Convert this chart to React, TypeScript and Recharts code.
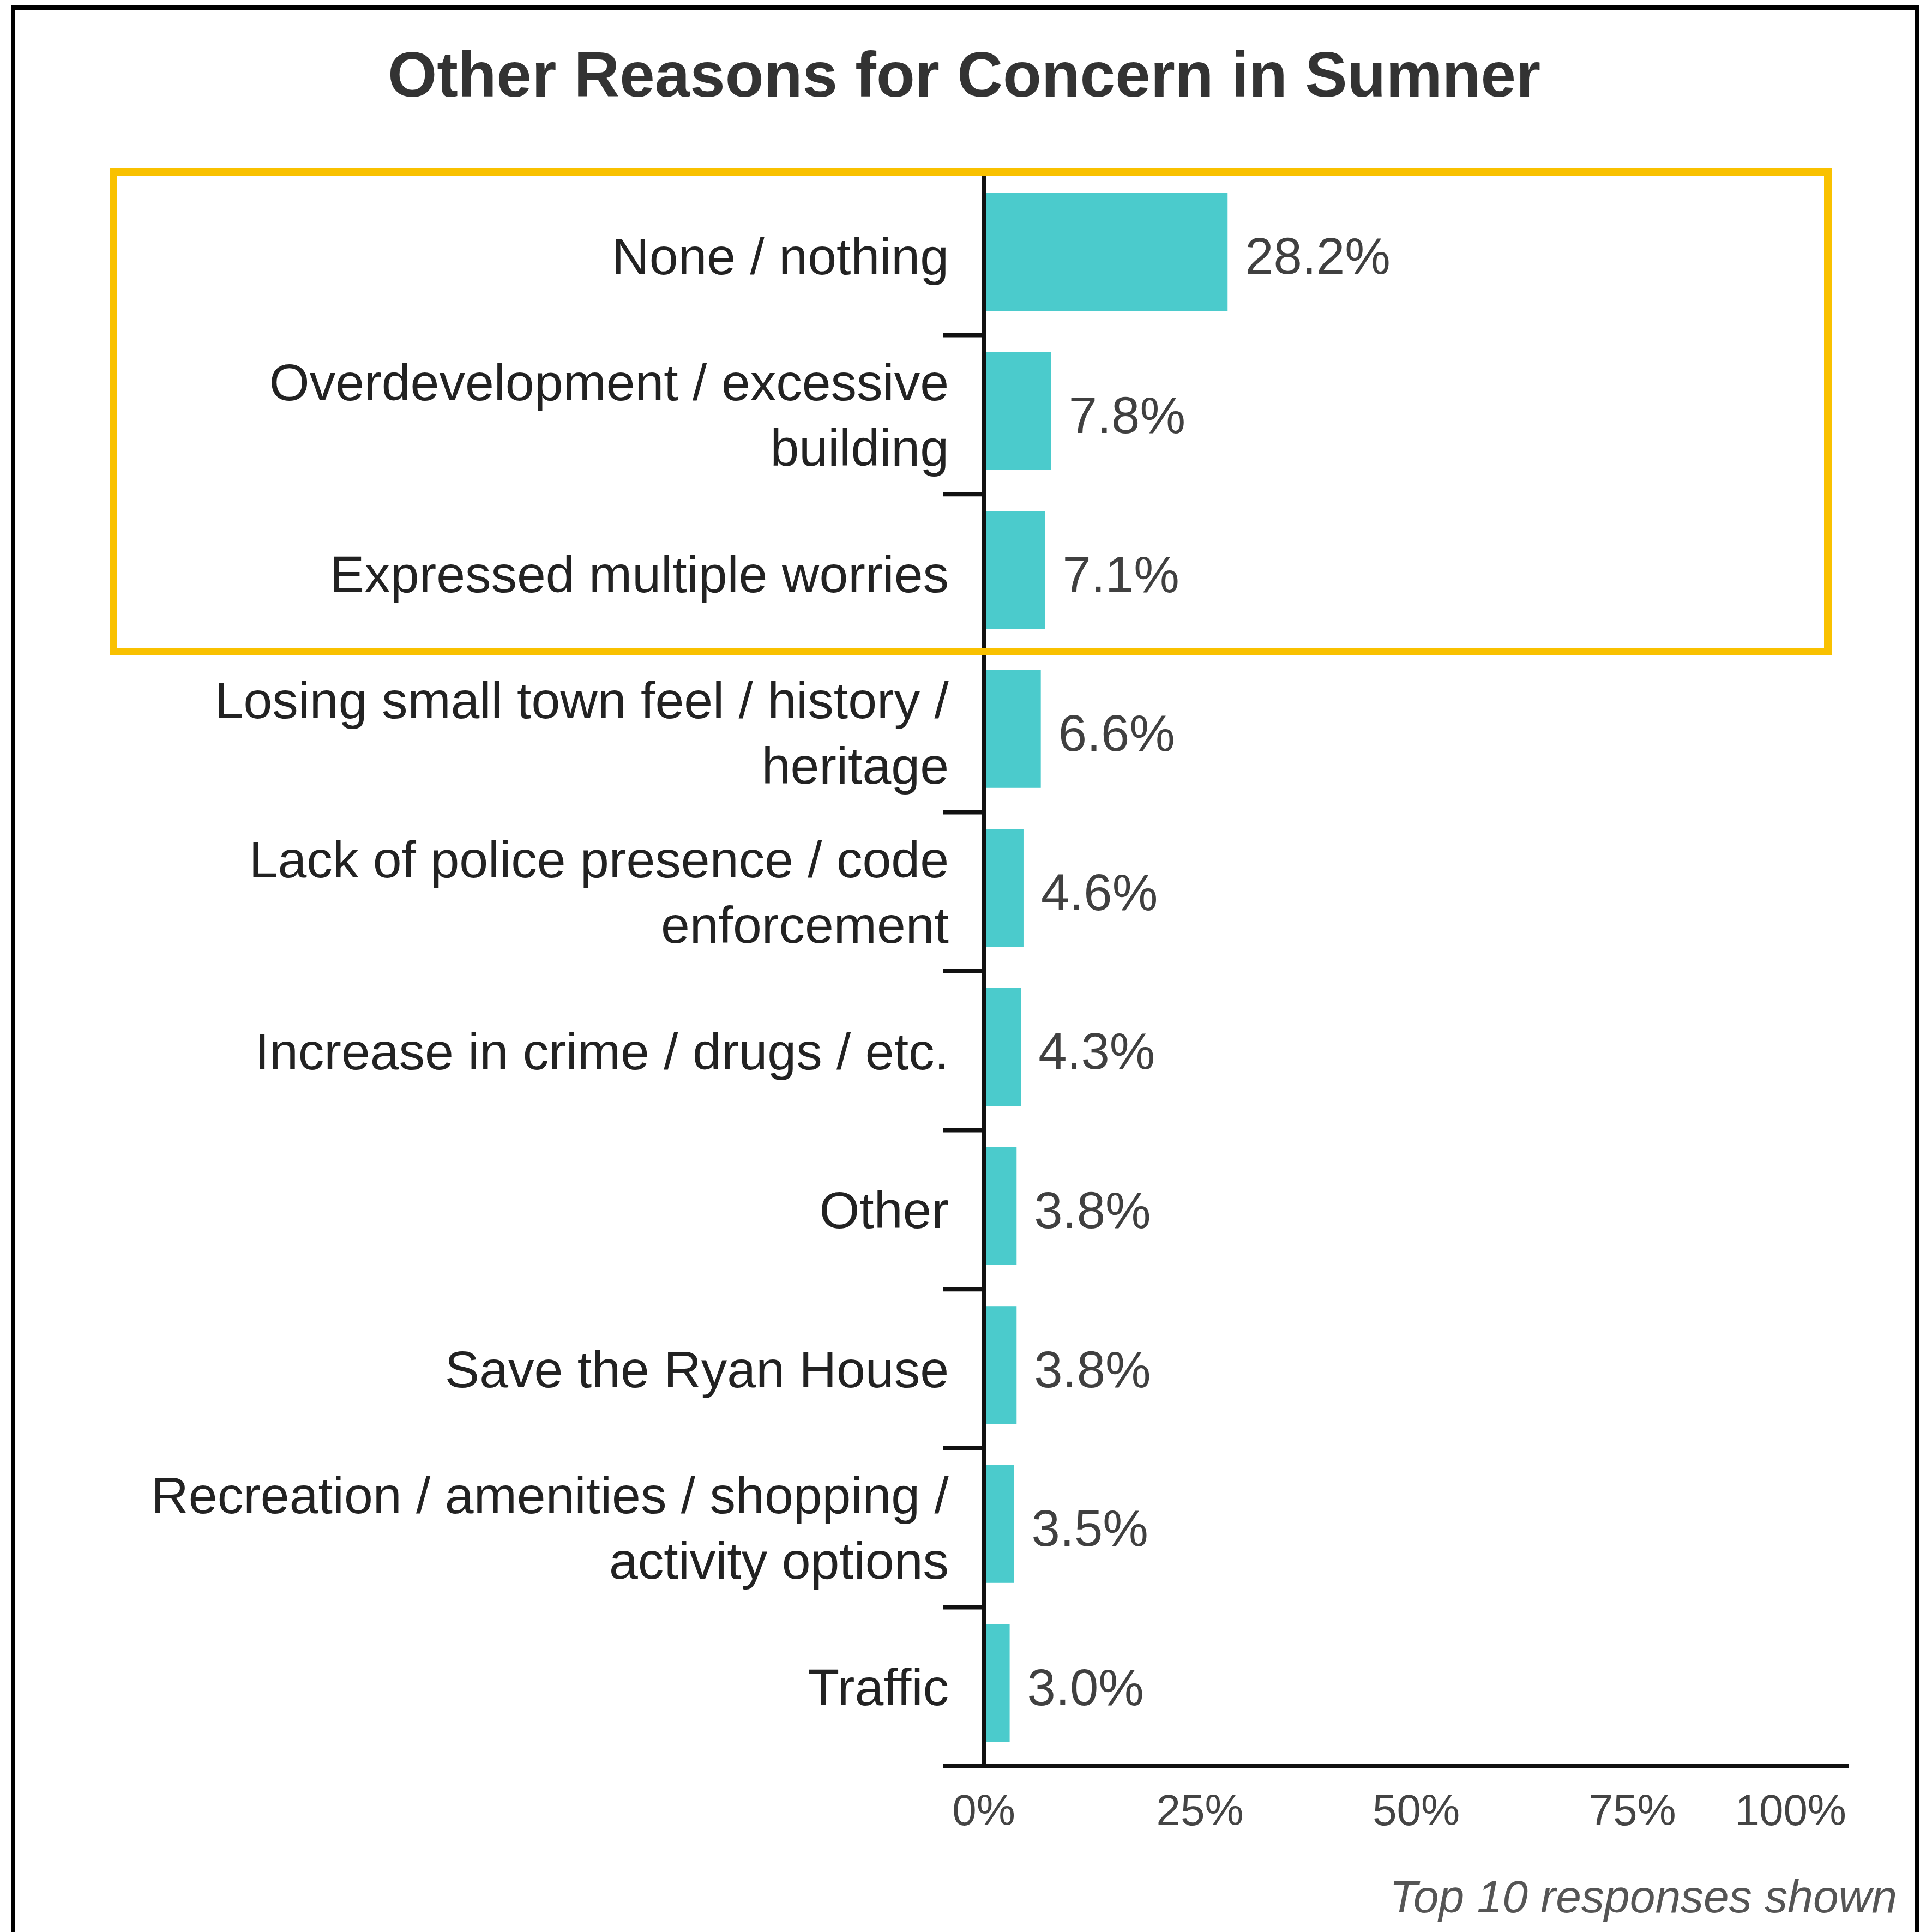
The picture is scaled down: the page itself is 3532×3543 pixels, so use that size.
import React from 'react';
import { BarChart, Bar, XAxis, YAxis, LabelList } from 'recharts';

const categories = [
  'None / nothing',
  'Overdevelopment / excessive building',
  'Expressed multiple worries',
  'Losing small town feel / history / heritage',
  'Lack of police presence / code enforcement',
  'Increase in crime / drugs / etc.',
  'Other',
  'Save the Ryan House',
  'Recreation / amenities / shopping / activity options',
  'Traffic',
];
const shares = [28.2, 7.8, 7.1, 6.6, 4.6, 4.3, 3.8, 3.8, 3.5, 3.0];
const xTicks = [0, 25, 50, 75, 100];

const data = categories.map((name, i) => ({ name, value: shares[i] }));

const W = 3532;
const H = 3543;
const TOP = 323;
const AXIS_W = 1804;
const X_AXIS_H = 304;
const RIGHT = 142;
const BAND = (H - TOP - X_AXIS_H) / categories.length;
const FONT = '"Liberation Sans", Arial, Helvetica, sans-serif';
const BAR_COLOR = '#4BCBCC';
const AXIS_COLOR = '#111';
const LABEL_SIZE = 95;
const LINE_H = 120;

let ctx: CanvasRenderingContext2D | null = null;

// greedy word wrap, measured with the same font the labels use
const wrapLabel = (text: string, maxWidth: number) => {
  if (!ctx) ctx = document.createElement('canvas').getContext('2d');
  if (!ctx) return [text];
  ctx.font = `${LABEL_SIZE}px ${FONT}`;
  const words = text.split(' ');
  const lines: string[] = [];
  let cur = '';
  words.forEach(w => {
    const next = cur ? `${cur} ${w}` : w;
    if (cur && ctx!.measureText(next).width > maxWidth) {
      lines.push(cur);
      cur = w;
    } else {
      cur = next;
    }
  });
  if (cur) lines.push(cur);
  return lines;
};

const CategoryTick = ({ x, y, payload }: any) => {
  const lines = wrapLabel(payload.value, 1530);
  const startY = y - ((lines.length - 1) * LINE_H) / 2 + LABEL_SIZE * 0.355;
  return (
    <g>
      <text textAnchor="end" fill="#222" fontSize={LABEL_SIZE} fontFamily={FONT}>
        {lines.map((line, i) => (
          <tspan key={i} x={x - 64} y={startY + i * LINE_H}>
            {line}
          </tspan>
        ))}
      </text>
      {/* boundary tick below each category */}
      <line x1={x - 75} x2={x} y1={y + BAND / 2} y2={y + BAND / 2} stroke={AXIS_COLOR} strokeWidth={8} />
    </g>
  );
};

const PercentTick = ({ x, y, payload }: any) => {
  const isLast = payload.value === xTicks[xTicks.length - 1];
  return (
    <text
      x={isLast ? x - 4 : x}
      y={y + 108}
      textAnchor={isLast ? 'end' : 'middle'}
      fill="#444"
      fontSize={80}
      fontFamily={FONT}
    >
      {`${payload.value}%`}
    </text>
  );
};

const ShiftedBar = (p: any) => (
  <rect x={p.x} y={p.y - 7} width={p.width} height={p.height} fill={BAR_COLOR} />
);

export default function App() {
  return (
    <div style={{ position: 'absolute', left: 0, top: 0, width: W, height: H, background: '#fff' }}>
      <BarChart
        width={W}
        height={H}
        data={data}
        layout="vertical"
        margin={{ top: TOP, right: RIGHT, bottom: 0, left: 0 }}
      >
        <XAxis
          type="number"
          domain={[0, 100]}
          ticks={xTicks}
          interval={0}
          height={X_AXIS_H}
          tickSize={0}
          tickMargin={0}
          tickLine={false}
          axisLine={{ stroke: AXIS_COLOR, strokeWidth: 8 }}
          tick={<PercentTick />}
        />
        <YAxis
          type="category"
          dataKey="name"
          width={AXIS_W}
          interval={0}
          tickSize={0}
          tickMargin={0}
          tickLine={false}
          axisLine={{ stroke: AXIS_COLOR, strokeWidth: 8 }}
          tick={<CategoryTick />}
        />
        <Bar dataKey="value" fill={BAR_COLOR} barSize={216} shape={<ShiftedBar />} isAnimationActive={false}>
          <LabelList
            dataKey="value"
            position="right"
            offset={32}
            formatter={(v: any) => `${Number(v).toFixed(1)}%`}
            fill="#404040"
            fontSize={94}
            fontFamily={FONT}
          />
        </Bar>
      </BarChart>

      <svg
        width={W}
        height={H}
        style={{ position: 'absolute', left: 0, top: 0, pointerEvents: 'none' }}
      >
        <path d={`M24 ${H} V14 H3515 V${H}`} fill="none" stroke="#000" strokeWidth={8} />
        <text x={1768} y={177} textAnchor="middle" fill="#333" fontSize={116} fontWeight="bold" fontFamily={FONT}>
          Other Reasons for Concern in Sumner
        </text>
        <rect x={208} y={315} width={3144} height={880} fill="none" stroke="#F9C100" strokeWidth={14} />
        <text x={3479} y={3507} textAnchor="end" fill="#555" fontSize={84} fontStyle="italic" fontFamily={FONT}>
          Top 10 responses shown
        </text>
      </svg>
    </div>
  );
}
